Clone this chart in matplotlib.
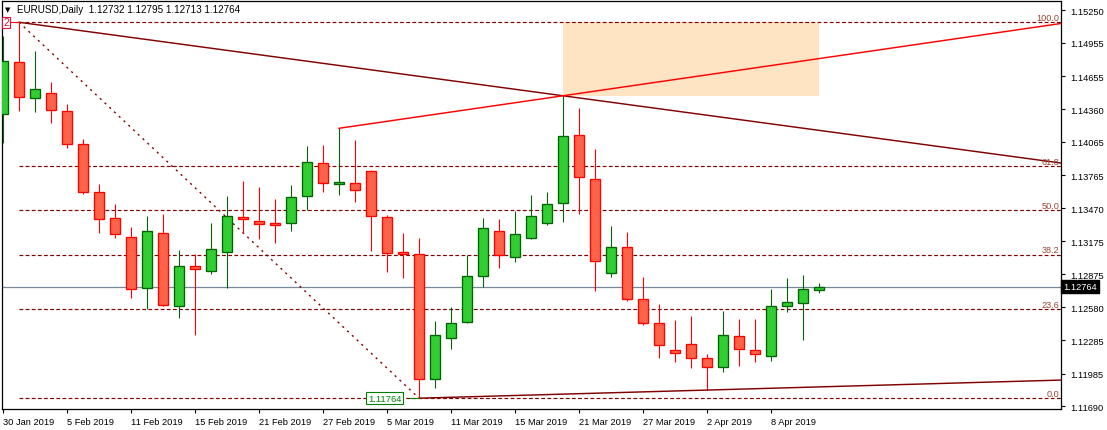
import matplotlib
matplotlib.use("Agg")
import matplotlib.pyplot as plt
from matplotlib.patches import Rectangle
import matplotlib.transforms as mtransforms

# daily EURUSD bars, 30 Jan 2019 .. 11 Apr 2019
opens = [1.14313, 1.14780, 1.14457, 1.14502, 1.14340, 1.14044, 1.13613, 1.13380, 1.13209, 1.12751,
         1.13245, 1.12589, 1.12948, 1.12904, 1.13074, 1.13388, 1.13353, 1.13335, 1.13335, 1.13582,
         1.13873, 1.13685, 1.13694, 1.13802, 1.13388, 1.13074, 1.13056, 1.11934, 1.12302, 1.12446,
         1.12864, 1.13263, 1.13029, 1.13200, 1.13335, 1.13514, 1.14125, 1.13730, 1.12886, 1.13119,
         1.12655, 1.12437, 1.12194, 1.12248, 1.12122, 1.12041, 1.12320, 1.12194, 1.12140, 1.12595,
         1.12616, 1.12732]
highs = [1.15017, 1.15140, 1.14879, 1.14601, 1.14403, 1.14092, 1.13688, 1.13508, 1.13299, 1.13397,
         1.13418, 1.13095, 1.13059, 1.13337, 1.13580, 1.13712, 1.13661, 1.13553, 1.13679, 1.14029,
         1.14038, 1.14188, 1.14083, 1.13813, 1.13409, 1.13248, 1.13200, 1.12455, 1.12580, 1.13050,
         1.13382, 1.13373, 1.13442, 1.13589, 1.13616, 1.14480, 1.14370, 1.14002, 1.13310, 1.13254,
         1.12850, 1.12610, 1.12466, 1.12499, 1.12161, 1.12544, 1.12473, 1.12475, 1.12745, 1.12843,
         1.12870, 1.12795]
lows = [1.14056, 1.14346, 1.14337, 1.14238, 1.14008, 1.13600, 1.13245, 1.13203, 1.12664, 1.12565,
        1.12595, 1.12487, 1.12334, 1.12882, 1.12751, 1.13245, 1.13194, 1.13155, 1.13268, 1.13454,
        1.13618, 1.13591, 1.13529, 1.13089, 1.12895, 1.12843, 1.11764, 1.11853, 1.12206, 1.12437,
        1.12765, 1.12936, 1.12984, 1.13191, 1.13317, 1.13349, 1.13421, 1.12729, 1.12855, 1.12634,
        1.12419, 1.12128, 1.12092, 1.12038, 1.11835, 1.11997, 1.12056, 1.12092, 1.12101, 1.12541,
        1.12289, 1.12713]
closes = [1.14789, 1.14471, 1.14541, 1.14349, 1.14044, 1.13613, 1.13373, 1.13236, 1.12742, 1.13263,
          1.12604, 1.12948, 1.12921, 1.13101, 1.13397, 1.13370, 1.13326, 1.13317, 1.13568, 1.13882,
          1.13694, 1.13705, 1.13631, 1.13397, 1.13065, 1.13056, 1.11934, 1.12329, 1.12437, 1.12859,
          1.13290, 1.13047, 1.13236, 1.13397, 1.13505, 1.14116, 1.13748, 1.12999, 1.13119, 1.12655,
          1.12437, 1.12239, 1.12173, 1.12122, 1.12041, 1.12329, 1.12203, 1.12164, 1.12589, 1.12625,
          1.12742, 1.12764]

tick_bars = [0, 4, 8, 12, 16, 20, 24, 28, 32, 36, 40, 44, 48]
tick_dates = ["30 Jan 2019", "5 Feb 2019", "11 Feb 2019", "15 Feb 2019", "21 Feb 2019",
              "27 Feb 2019", "5 Mar 2019", "11 Mar 2019", "15 Mar 2019", "21 Mar 2019",
              "27 Mar 2019", "2 Apr 2019", "8 Apr 2019"]
price_ticks = [1.15250, 1.14955, 1.14655, 1.14360, 1.14065, 1.13765, 1.13470,
               1.13175, 1.12875, 1.12580, 1.12285, 1.11985, 1.11690]

# fibo from 31 Jan high to 7 Mar low
fib_high_bar, fib_high = 1, 1.15140
fib_low_bar, fib_low = 26, 1.11764
fib_ratios = [0.0, 0.236, 0.382, 0.5, 0.618, 1.0]
fib_names = ["0.0", "23.6", "38.2", "50.0", "61.8", "100.0"]

# trendlines (start bar, start price, second bar, second price)
top_line = (1, 1.15140, 35, 1.14480)
red_line = (21, 1.14188, 35, 1.14480)
bottom_line = (26, 1.11764, 44, 1.11837)
box_bars = (35, 51)
box_prices = (1.14480, 1.15140)
bid = 1.12764

X0, X1 = -0.0625, 66.125
Y0, Y1 = 1.11667, 1.15331

plt.rcParams['font.family'] = ['Liberation Sans', 'DejaVu Sans']
fig = plt.figure(figsize=(11.07, 4.31), dpi=100)
ax = fig.add_axes([2 / 1107, 21 / 431, 1059 / 1107, 408 / 431])
ax.set_xlim(X0, X1)
ax.set_ylim(Y0, Y1)

# candles
bw = 0.66
for i in range(len(opens)):
    o, h, l, c = opens[i], highs[i], lows[i], closes[i]
    if c >= o:
        fc, ec = '#32cd32', '#006400'
    else:
        fc, ec = '#ff6347', '#ff0000'
    ax.plot([i, i], [l, h], color=ec, lw=0.8, zorder=3, solid_capstyle='butt')
    bot = min(o, c)
    hgt = max(abs(c - o), 0.00012)
    if abs(c - o) < 0.00012:
        bot = (o + c) / 2 - 0.00006
    ax.add_patch(Rectangle((i - bw / 2, bot), bw, hgt, facecolor=fc, edgecolor=ec,
                           lw=0.95, zorder=4))

# target box
ax.add_patch(Rectangle((box_bars[0], box_prices[0]), box_bars[1] - box_bars[0],
                       box_prices[1] - box_prices[0], facecolor='#ffe4c4',
                       edgecolor='none', zorder=0))

# fibo levels
for r, name in zip(fib_ratios, fib_names):
    lvl = fib_low + r * (fib_high - fib_low)
    ax.plot([fib_high_bar, X1], [lvl, lvl], color='#800000', lw=0.85,
            linestyle=(0, (3.2, 2.0)), zorder=2)
    ax.text(X1 - 0.12, lvl + 0.00003, name, ha='right', va='bottom', fontsize=6.6,
            color='#9a4632', zorder=6)
ax.plot([fib_high_bar, fib_low_bar], [fib_high, fib_low], color='#800000', lw=1.0,
        linestyle=(0, (1.5, 3.2)), zorder=2)


def ray(seg, color):
    b1, p1, b2, p2 = seg
    slope = (p2 - p1) / (b2 - b1)
    ax.plot([b1, X1], [p1, p1 + slope * (X1 - b1)], color=color, lw=1.05, zorder=5)


ray(top_line, '#800000')
ray(red_line, '#ff0000')
ray(bottom_line, '#800000')

# bid line
ax.axhline(bid, color='#778899', lw=0.9, zorder=1)

# labels on the chart
ax.text(22.8, fib_low, "1.11764", fontsize=6.8, color='#008000', ha='left', va='center',
        zorder=7, bbox=dict(boxstyle='square,pad=0.15', fc='white', ec='#008000', lw=0.8))
ax.plot([25.45, 26], [fib_low, fib_low], color='#008000', lw=0.8, zorder=6)
ax.text(0.0, fib_high, "2", fontsize=7.5, color='#dc143c', ha='left', va='center', zorder=7,
        bbox=dict(boxstyle='square,pad=0.06', fc='white', ec='#dc143c', lw=0.8))
ax.plot([0.45, 1], [fib_high, fib_high], color='#ff0000', lw=0.8, zorder=6)

fig.text(5 / 1107, 1 - 10 / 431, "\u25bc", fontsize=5, va='center', ha='left',
         family='DejaVu Sans')
fig.text(17 / 1107, 1 - 10 / 431, "EURUSD,Daily  1.12732 1.12795 1.12713 1.12764",
         fontsize=7.1, va='center', ha='left')

# axes
for s in ax.spines.values():
    s.set_color('black')
    s.set_linewidth(0.9)
ax.yaxis.tick_right()
ax.set_yticks(price_ticks)
ax.set_yticklabels([f"{p:.5f}" for p in price_ticks])
ax.set_xticks(tick_bars)
ax.set_xticklabels(tick_dates, ha='left')
ax.tick_params(axis='y', direction='out', length=3, width=0.8, pad=4, labelsize=6.7)
ax.tick_params(axis='x', direction='out', length=3, width=0.8, pad=2.5, labelsize=6.7)

trans = mtransforms.blended_transform_factory(ax.transAxes, ax.transData)
ax.text(1.0022, bid, "1.12764", transform=trans, fontsize=6.7, color='white',
        ha='left', va='center', zorder=8, clip_on=False,
        bbox=dict(boxstyle='square,pad=0.22', fc='black', ec='black'))

fig.savefig("out.png", dpi=100)
